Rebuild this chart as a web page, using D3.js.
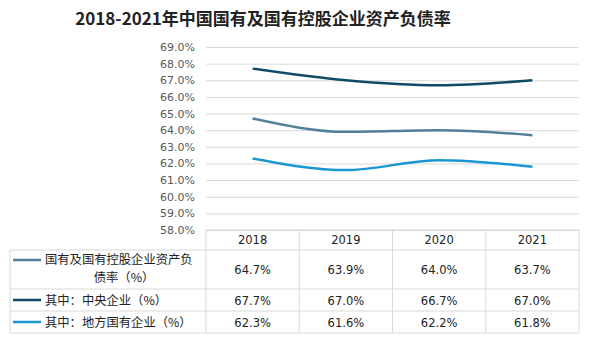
<!DOCTYPE html>
<html>
<head>
<meta charset="utf-8">
<script src="https://cdn.jsdelivr.net/npm/d3@7"></script>
<style>
  body { margin: 0; background: #fff; }
  text { font-family: "Noto Sans CJK SC", "DejaVu Sans", sans-serif; }
</style>
</head>
<body>
<svg id="chart"></svg>
<script>
const years = ['2018', '2019', '2020', '2021']
const seriesNames = ['国有及国有控股企业资产负债率（%）', '其中：中央企业（%）', '其中：地方国有企业（%）']
const totalRate = [64.7, 63.9, 64.0, 63.7]
const centralRate = [67.7, 67.0, 66.7, 67.0]
const localRate = [62.3, 61.6, 62.2, 61.8]
const yTicks = [58, 59, 60, 61, 62, 63, 64, 65, 66, 67, 68, 69]
const colors = ['#52809a', '#0f4b68', '#1a97d2']

const width = 591, height = 352
const svg = d3.select('#chart').attr('width', width).attr('height', height)

const plot = {left: 206, right: 579, top: 47, bottom: 230}
const series = [totalRate, centralRate, localRate]

const x = d3.scaleBand().domain(years).range([plot.left, plot.right])
const y = d3.scaleLinear().domain([58, 69]).range([plot.bottom, plot.top])

// title
svg.append('text')
    .attr('x', 263).attr('y', 25)
    .attr('text-anchor', 'middle')
    .attr('font-size', 17).attr('font-weight', 'bold')
    .attr('fill', '#222')
    .text('2018-2021年中国国有及国有控股企业资产负债率')

// gridlines + y labels
const yAxis = svg.append('g')
    .attr('transform', `translate(${plot.left},0)`)
    .call(d3.axisLeft(y).tickValues(yTicks).tickFormat(d => d.toFixed(1) + '%')
        .tickSize(-(plot.right - plot.left)).tickPadding(11))
yAxis.select('.domain').remove()
yAxis.selectAll('line').attr('stroke', '#d9d9d9')
yAxis.selectAll('text').attr('font-size', 11).attr('fill', '#595959')
    .style('font-family', '"DejaVu Sans", sans-serif')

// lines
const line = d3.line()
    .x((d, i) => x(years[i]) + x.bandwidth() / 2)
    .y(d => y(d))
    .curve(d3.curveMonotoneX)

series.forEach((s, i) => {
    svg.append('path')
        .datum(s)
        .attr('d', line)
        .attr('fill', 'none')
        .attr('stroke', colors[i])
        .attr('stroke-width', 2.5)
})

// data table
const rowEdges = [230, 250, 289, 311, 333]
const tableLeft = 10
const grid = svg.append('g').attr('stroke', '#d9d9d9').attr('fill', 'none')

// horizontal lines
grid.append('line').attr('x1', plot.left).attr('x2', plot.right)
    .attr('y1', rowEdges[0]).attr('y2', rowEdges[0])
rowEdges.slice(1).forEach(r => {
    grid.append('line').attr('x1', tableLeft).attr('x2', plot.right)
        .attr('y1', r).attr('y2', r)
})
// vertical lines
grid.append('line').attr('x1', tableLeft).attr('x2', tableLeft)
    .attr('y1', rowEdges[1]).attr('y2', rowEdges[4])
years.forEach(yr => {
    grid.append('line').attr('x1', x(yr)).attr('x2', x(yr))
        .attr('y1', rowEdges[0]).attr('y2', rowEdges[4])
})
grid.append('line').attr('x1', plot.right).attr('x2', plot.right)
    .attr('y1', rowEdges[0]).attr('y2', rowEdges[4])

// header years
years.forEach(yr => {
    svg.append('text')
        .attr('x', x(yr) + x.bandwidth() / 2).attr('y', 244)
        .attr('text-anchor', 'middle').attr('font-size', 11.5).attr('fill', '#222')
        .style('font-family', '"DejaVu Sans", sans-serif')
        .text(yr)
})

// row labels with legend keys
const labelLines = [['国有及国有控股企业资产负', '债率（%）'], [seriesNames[1]], [seriesNames[2]]]
series.forEach((s, i) => {
    const top = rowEdges[i + 1], bot = rowEdges[i + 2]
    const mid = (top + bot) / 2
    const lines = labelLines[i]
    const keyY = lines.length > 1 ? mid - 9.5 : mid
    svg.append('line')
        .attr('x1', 13).attr('x2', 41)
        .attr('y1', keyY).attr('y2', keyY)
        .attr('stroke', colors[i]).attr('stroke-width', 2.5)
    if (lines.length > 1) {
        svg.append('text').attr('x', 45).attr('y', mid - 5.5)
            .attr('font-size', 12.3).attr('fill', '#222').text(lines[0])
        svg.append('text').attr('x', 124).attr('y', mid + 12.5)
            .attr('text-anchor', 'middle')
            .attr('font-size', 12.3).attr('fill', '#222').text(lines[1])
    } else {
        svg.append('text').attr('x', 45).attr('y', mid + 4.5)
            .attr('font-size', 12.3).attr('fill', '#222').text(lines[0])
    }
    s.forEach((v, j) => {
        svg.append('text')
            .attr('x', x(years[j]) + x.bandwidth() / 2).attr('y', mid + 4.5)
            .attr('text-anchor', 'middle').attr('font-size', 11.5).attr('fill', '#222')
            .style('font-family', '"DejaVu Sans", sans-serif')
            .text(v.toFixed(1) + '%')
    })
})
</script>
</body>
</html>
